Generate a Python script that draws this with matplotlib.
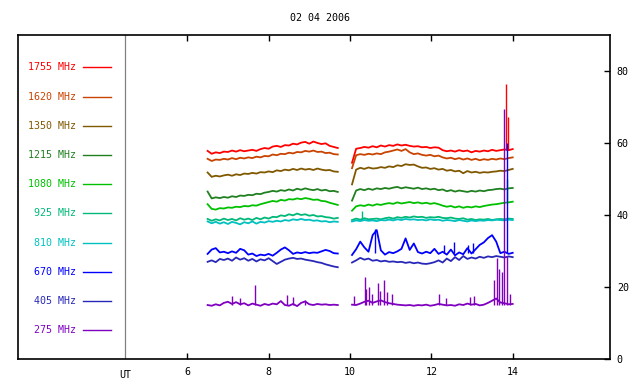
import numpy as np
import matplotlib
matplotlib.use("Agg")
import matplotlib.pyplot as plt

title = "02 04 2006"

freqs = ["1755", "1620", "1350", "1215", "1080", "925", "810", "670", "405", "275"]
colors = ["#ff0000", "#c84400", "#805800", "#208020", "#00c000",
          "#00b878", "#00c0c0", "#0000ff", "#2828b8", "#8000c0"]

# two observing runs (UT hours)
t1 = np.linspace(6.5, 9.7, 33)
t2 = np.linspace(10.05, 14.0, 40)

run1 = {
    "1755": [57.8, 57.0, 57.4, 57.2, 57.6, 57.5, 57.9, 57.6, 58.0, 57.7, 57.9, 58.1, 57.8, 58.3, 58.6, 58.4, 59.0,
             59.2, 58.9, 59.4, 59.3, 59.8, 59.6, 60.1, 60.3, 59.8, 60.4, 60.0, 59.7, 59.9, 59.2, 58.9, 58.6],
    "1620": [55.6, 55.0, 55.4, 55.3, 55.6, 55.4, 55.8, 55.5, 55.9, 55.7, 56.0, 55.8, 56.2, 56.0, 56.4, 56.3, 56.8,
             56.6, 57.0, 56.9, 57.3, 57.1, 57.5, 57.4, 57.8, 57.6, 57.9, 57.5, 57.6, 57.2, 57.3, 56.9, 56.8],
    "1350": [51.8, 50.6, 50.9, 50.7, 51.0, 51.2, 50.9, 51.3, 51.1, 51.5, 51.4, 51.7, 51.5, 51.9, 51.8, 52.1, 51.9,
             52.4, 52.2, 52.6, 52.4, 52.8, 52.5, 52.9, 52.6, 52.8, 52.5, 52.9, 52.6, 52.4, 52.5, 52.1, 52.0],
    "1215": [46.5, 44.6, 44.9, 44.7, 45.0, 44.8, 45.2, 45.0, 45.4, 45.3, 45.6, 45.5, 45.9, 45.8, 46.2, 46.4, 46.7,
             46.5, 46.9, 46.7, 47.1, 46.8, 47.3, 47.0, 47.4, 47.1, 46.9, 47.2, 46.8, 47.0, 46.6, 46.7, 46.4],
    "1080": [43.0, 41.7, 41.5, 41.9, 41.8, 42.1, 42.0, 42.3, 42.2, 42.5, 42.4, 42.7, 42.6, 43.0, 43.3, 43.6, 43.9,
             43.7, 44.2, 44.0, 44.4, 44.3, 44.6, 44.4, 44.7, 44.5, 44.2, 44.3, 43.9, 43.8, 43.4, 43.1, 42.8],
    "925": [38.9, 38.4, 38.8, 38.5, 39.0, 38.6, 38.9, 38.5, 39.1, 38.7, 39.0, 38.6, 39.2, 38.8, 39.3, 39.0, 39.5,
            39.4, 39.9, 39.7, 40.2, 39.9, 40.4, 40.0, 40.2, 39.8, 40.0, 39.6, 39.7, 39.4, 39.3, 39.0, 39.2],
    "810": [38.2, 37.7, 38.1, 37.6, 38.0, 37.5, 38.1, 37.8, 37.4, 38.0, 37.7, 38.2, 37.6, 38.1, 37.9, 38.3, 38.1,
            38.4, 38.2, 38.6, 38.4, 38.8, 38.6, 38.9, 38.6, 38.7, 38.4, 38.5, 38.2, 38.3, 38.0, 38.2, 38.1],
    "670": [29.2, 30.4, 30.8, 29.6, 29.8, 29.4, 29.9, 29.5, 30.6, 30.2, 29.0, 29.3, 28.6, 29.0, 28.8, 29.2, 28.7,
            29.5, 30.4, 31.0, 30.2, 29.2, 29.6, 29.4, 29.7, 29.4, 29.6, 29.5, 29.9, 30.3, 30.0, 29.4, 29.3],
    "405": [27.0, 27.4, 26.9, 27.8, 27.5, 27.9, 27.3, 28.2, 27.6, 28.0, 27.3, 27.8, 27.1, 27.7, 27.4, 28.0, 27.2,
            26.4, 27.0, 27.6, 27.9, 28.1, 27.8, 27.9, 27.6, 27.4, 27.2, 26.9, 26.7, 26.3, 26.0, 25.7, 25.5],
    "275": [15.0, 14.8, 15.2, 14.9, 15.6, 15.9, 15.3, 15.8, 15.2, 15.5, 14.9, 15.4, 15.1, 14.8, 15.3, 15.0, 15.4,
            15.2, 16.1, 15.0, 14.8, 15.3, 14.7, 15.6, 16.0, 15.2, 15.0, 15.3, 15.1, 15.2, 15.0, 15.1, 15.0],
}

run2 = {
    "1755": [54.5, 58.4, 58.6, 58.9, 58.7, 59.1, 58.8, 59.3, 59.0, 59.4, 59.2, 59.6, 59.3, 59.5, 59.2, 59.0, 59.1,
             58.8, 58.9, 58.6, 58.8, 58.7, 58.0, 57.7, 57.9, 57.6, 58.0, 57.7, 57.9, 57.4, 57.8, 57.6, 57.9, 57.7,
             58.1, 57.8, 58.0, 58.2, 58.0, 58.3],
    "1620": [53.0, 56.6, 56.9, 56.7, 57.0, 56.8, 57.1, 56.9, 57.4, 57.6, 57.9, 58.2, 57.8, 58.3, 57.4, 56.9, 57.1,
             56.7, 56.5, 56.7, 56.3, 56.5, 56.0, 55.7, 55.9, 55.5, 55.8, 55.4, 55.7, 55.3, 55.6, 55.2, 55.5, 55.3,
             55.6, 55.4, 55.7, 55.5, 55.8, 56.0],
    "1350": [48.5, 52.6, 53.1, 52.8, 53.2, 52.9, 53.0, 53.3, 53.1, 53.5, 53.3, 53.8, 53.6, 54.1, 53.9, 54.0, 53.5,
             53.1, 53.2, 52.8, 53.0, 52.6, 52.8, 52.3, 52.5, 52.1, 52.3, 51.6, 52.2, 51.8, 52.0, 51.7, 51.9, 51.8,
             52.0, 52.1, 52.3, 52.2, 52.5, 52.8],
    "1215": [44.0, 46.8, 47.2, 46.9, 47.3, 47.0, 47.4, 47.2, 47.5, 47.3, 47.6, 47.8, 47.4, 47.7, 47.5, 47.3, 47.6,
             47.2, 47.4, 47.1, 47.3, 46.9, 47.1, 46.6, 46.9, 46.5, 46.8, 46.6, 46.4, 46.7, 46.5, 46.8, 46.6, 46.9,
             47.0, 47.2, 47.3, 47.1, 47.4, 47.5],
    "1080": [41.2, 42.4, 42.7, 42.5, 42.9, 42.6, 43.0, 42.8, 43.1, 43.3, 43.1, 43.5, 43.2, 43.4, 43.6, 43.3, 43.5,
             43.2, 43.4, 43.1, 43.3, 43.0, 42.6, 42.3, 42.5, 42.1, 42.4, 42.0, 42.3, 42.1, 42.4, 42.2, 42.5, 42.7,
             42.9, 43.0, 43.2, 43.4, 43.5, 43.7],
    "925": [38.6, 39.0, 38.7, 39.1, 38.8, 38.9, 39.0, 38.8, 39.1, 39.3, 39.0, 39.4, 39.2, 39.5, 39.3, 39.6, 39.4,
            39.5, 39.2, 39.4, 39.3, 39.5, 39.2, 39.1, 39.3, 39.0, 38.9, 39.1, 38.7, 38.9, 38.6, 38.8, 38.7, 38.9,
            38.6, 38.8, 38.9, 38.8, 39.0, 38.9],
    "810": [38.2, 38.5, 38.3, 38.6, 38.4, 38.5, 38.3, 38.6, 38.5, 38.7, 38.5, 38.8, 38.6, 38.9, 38.7, 38.8, 38.6,
            38.7, 38.5, 38.8, 38.6, 38.7, 38.4, 38.6, 38.5, 38.3, 38.6, 38.4, 38.2, 38.5, 38.3, 38.5, 38.4, 38.6,
            38.5, 38.7, 38.6, 38.5, 38.7, 38.6],
    "670": [28.9, 30.5, 32.6, 31.0, 29.8, 34.4, 35.8, 30.2, 29.0, 29.7, 29.4, 29.9, 30.6, 33.5, 30.3, 32.1, 29.7,
            29.3, 29.8, 29.4, 30.6, 29.2, 29.8, 29.0, 30.4, 28.8, 29.6, 29.1, 30.8, 29.3, 30.5, 31.7, 32.4, 33.6,
            34.4, 32.6, 29.4, 29.8, 29.2, 29.5],
    "405": [26.8, 27.4, 28.1, 27.6, 27.9, 27.3, 27.5, 27.1, 27.3, 27.0, 27.1, 26.9, 27.0, 26.7, 26.9, 26.6, 26.8,
            26.5, 26.4, 26.6, 26.9, 27.4, 26.8, 27.9, 27.2, 28.3, 27.5, 28.6, 27.8, 28.2, 27.9, 28.4, 28.1, 28.5,
            28.3, 28.6, 28.4, 28.2, 28.5, 28.3],
    "275": [15.1, 15.0, 15.4, 15.9, 16.2, 15.6, 16.0, 16.3, 15.8, 15.5, 15.3, 15.1, 15.0, 14.9, 15.0, 14.8, 15.0,
            14.9, 15.1, 14.8, 15.0, 15.3, 15.1, 14.9, 15.0, 14.8, 15.2, 15.0, 15.4, 15.1, 15.3, 14.9, 15.1, 15.6,
            16.2, 16.8, 15.7, 15.5, 15.2, 15.3],
}

# short bursts (time, peak) on top of the quiet level
spikes = {
    "1755": ([13.84, 13.88], 58.0, [76.4, 67.2]),
    "1080": ([13.87], 43.5, [50.0]),
    "670": ([10.62, 12.30, 12.55, 12.90, 13.02, 13.87], 29.5, [36.2, 31.6, 32.5, 31.8, 32.2, 60.0]),
    "925": ([10.30], 38.9, [41.0]),
    "275": ([7.10, 7.30, 7.66, 8.45, 8.60, 8.90,
             10.11, 10.36, 10.40, 10.47, 10.55, 10.68, 10.75, 10.83, 10.90, 11.03,
             12.20, 12.37, 12.95, 13.05, 13.55, 13.62, 13.66, 13.74, 13.79, 13.86, 13.93],
            15.0,
            [17.4, 17.0, 20.5, 17.8, 17.2, 16.5,
             17.5, 22.9, 19.5, 20.1, 18.0, 21.2, 19.0, 21.9, 18.5, 18.2,
             18.0, 17.0, 17.3, 17.6, 21.9, 28.0, 25.0, 24.2, 69.4, 28.5, 18.2]),
}

font = "DejaVu Sans Mono"
fs = 7.2

fig = plt.figure(figsize=(6.4, 3.84), dpi=100)
ax = fig.add_axes([0.028, 0.065, 0.925, 0.844])

for f, c in zip(freqs, colors):
    ax.plot(t1, run1[f], color=c, lw=1.3)
    ax.plot(t2, run2[f], color=c, lw=1.3)
    if f in spikes:
        st, base, peak = spikes[f]
        ax.vlines(st, base, peak, color=c, lw=1.0)

ax.set_xlim(1.837, 16.39)
ax.set_ylim(0, 90)

# legend panel on the left
sep_x = 4.468
ax.axvline(sep_x, color="#808080", lw=0.9)
leg_y = np.linspace(81.0, 8.0, len(freqs))
for f, c, yy in zip(freqs, colors, leg_y):
    ax.text(3.263, yy, f"{f} MHz", color=c, ha="right", va="center",
            family=font, fontsize=fs)
    ax.plot([3.435, 4.124], [yy, yy], color=c, lw=1.0)

ax.set_xticks([6, 8, 10, 12, 14])
ax.set_xticklabels(["6", "8", "10", "12", "14"])
ax.set_yticks([0, 20, 40, 60, 80])
ax.yaxis.tick_right()
ax.tick_params(axis="x", direction="in", length=4, width=1, top=True, bottom=True, pad=6)
ax.tick_params(axis="y", direction="in", length=4, width=1, left=False, right=True, pad=5)
for lab in ax.get_xticklabels() + ax.get_yticklabels():
    lab.set_family(font)
    lab.set_fontsize(fs)

ax.text(sep_x, -0.035, "UT", transform=ax.get_xaxis_transform(), ha="center", va="top",
        family=font, fontsize=fs)

for s in ax.spines.values():
    s.set_linewidth(1.2)

fig.text(0.5, 0.953, title, ha="center", va="center", family=font, fontsize=fs)

fig.savefig("out.png", dpi=100)
